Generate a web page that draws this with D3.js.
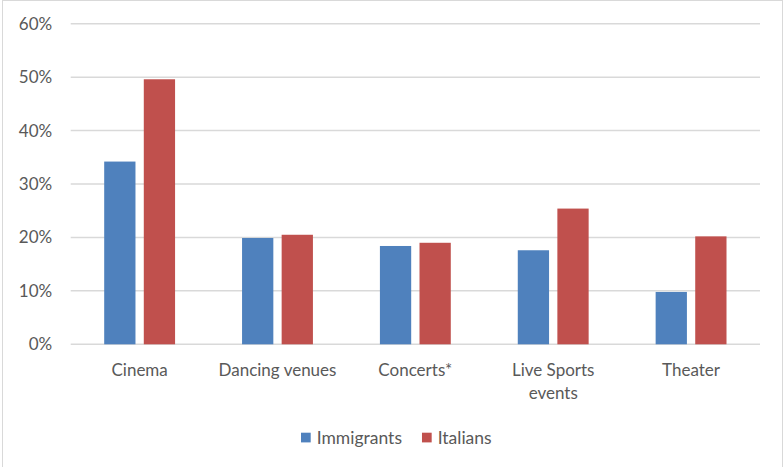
<!DOCTYPE html>
<html>
<head>
<meta charset="utf-8">
<script src="https://cdn.jsdelivr.net/npm/d3@7"></script>
<style>
  html, body { margin: 0; padding: 0; background: #fff; }
  svg { display: block; }
  text { font-family: Lato, "Liberation Sans", sans-serif; fill: #595959; }
</style>
</head>
<body>
<div id="chart"></div>
<script>
const categories = ["Cinema", "Dancing venues", "Concerts*", "Live Sports events", "Theater"];
const seriesNames = ["Immigrants", "Italians"];
const immigrants = [0.342, 0.199, 0.184, 0.176, 0.098];
const italians = [0.496, 0.205, 0.190, 0.254, 0.202];
const yTicks = [0, 0.1, 0.2, 0.3, 0.4, 0.5, 0.6];
const colors = ["#4F81BD", "#C0504D"];

const W = 784, H = 467;
const margin = { left: 70.7, right: 24, top: 23.7, bottom: 122.7 };
const FS = 17;

const svg = d3.select("#chart").append("svg").attr("width", W).attr("height", H);

svg.append("rect").attr("x", 2.5).attr("y", 0.5).attr("width", 780).attr("height", 480)
  .attr("fill", "#fff").attr("stroke", "#D9D9D9").attr("stroke-width", 1);

const x0 = d3.scaleBand().domain(categories).range([margin.left, W - margin.right]).padding(0);
const x1 = d3.scaleBand().domain(seriesNames).range([0, x0.bandwidth()])
  .paddingInner(0.21).paddingOuter(0.846);
const y = d3.scaleLinear().domain([0, 0.6]).range([H - margin.bottom, margin.top]);

// gridlines
svg.append("g").selectAll("line").data(yTicks).join("line")
  .attr("x1", margin.left).attr("x2", W - margin.right)
  .attr("y1", d => y(d)).attr("y2", d => y(d))
  .attr("stroke", "#D9D9D9").attr("stroke-width", 1.5);

// y axis labels
const yAxis = d3.axisLeft(y).tickValues(yTicks).tickFormat(d3.format(".0%")).tickSize(0).tickPadding(18.5);
const gy = svg.append("g").attr("transform", `translate(${margin.left},0)`).call(yAxis);
gy.select(".domain").remove();
gy.selectAll("text").attr("font-size", FS).attr("fill", "#595959")
  .style("font-family", "Lato, 'Liberation Sans', sans-serif");

// bars
const rows = categories.map((c, i) => ({ cat: c, vals: [immigrants[i], italians[i]] }));
const groups = svg.append("g").selectAll("g").data(rows).join("g")
  .attr("transform", d => `translate(${x0(d.cat)},0)`);
groups.selectAll("rect").data(d => d.vals.map((v, j) => ({ s: seriesNames[j], v, j })))
  .join("rect")
  .attr("x", d => x1(d.s)).attr("width", x1.bandwidth())
  .attr("y", d => y(d.v)).attr("height", d => y(0) - y(d.v))
  .attr("fill", d => colors[d.j]);

// x labels with wrapping
const xl = svg.append("g");
categories.forEach(c => {
  const t = xl.append("text").attr("text-anchor", "middle").attr("font-size", FS)
    .attr("x", x0(c) + x0.bandwidth() / 2).attr("y", y(0) + 31.5);
  const words = c.split(" ");
  let line = [], lines = [];
  const probe = xl.append("text").attr("font-size", FS);
  words.forEach(w => {
    const test = line.concat(w).join(" ");
    probe.text(test);
    if (probe.node().getComputedTextLength() > 125 && line.length) {
      lines.push(line.join(" ")); line = [w];
    } else line.push(w);
  });
  lines.push(line.join(" "));
  probe.remove();
  lines.forEach((l, k) => {
    t.append("tspan").attr("x", x0(c) + x0.bandwidth() / 2).attr("dy", k === 0 ? 0 : 23).text(l);
  });
});

// legend
const lg = svg.append("g");
let lx = 301;
seriesNames.forEach((s, j) => {
  lg.append("rect").attr("x", lx).attr("y", 432.7).attr("width", 9.7).attr("height", 9.7).attr("fill", colors[j]);
  const t = lg.append("text").attr("x", lx + 15.7).attr("y", 443.5).attr("font-size", 17.5).text(s);
  lx += 15.7 + t.node().getComputedTextLength() + 20;
});
</script>
</body>
</html>
